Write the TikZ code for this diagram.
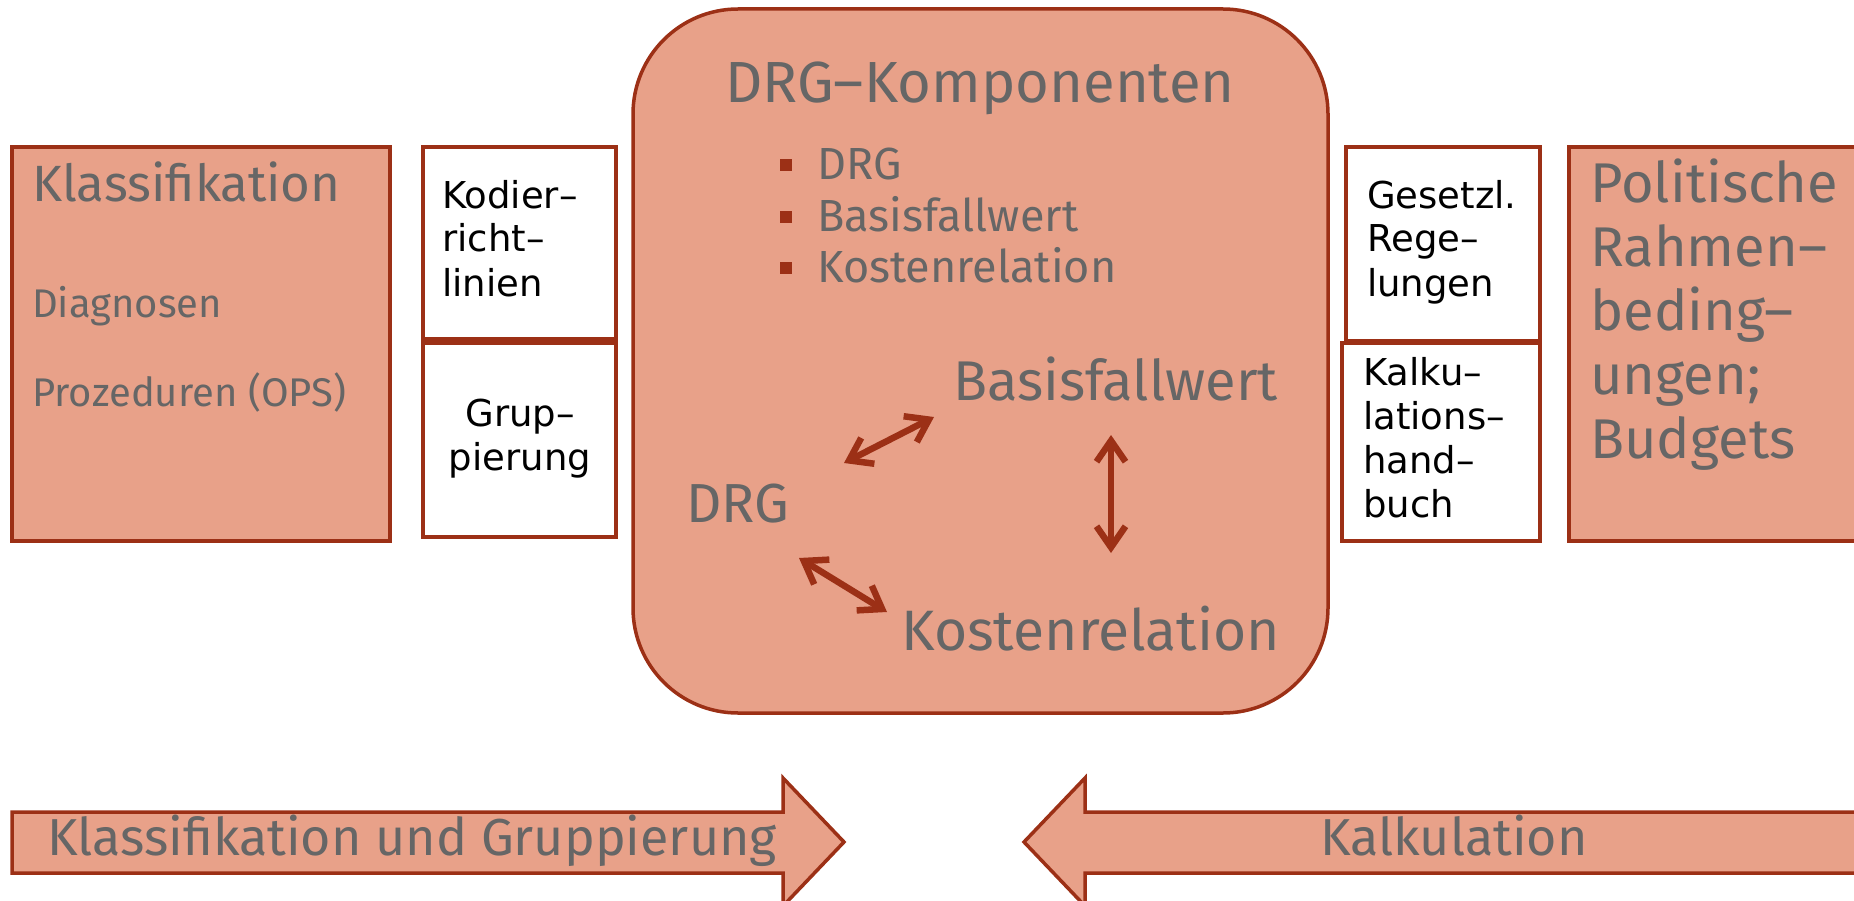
\documentclass[tikz,border=0pt]{standalone}
\usepackage{fontspec}
\setmainfont{Fira Sans}
\newfontfamily\boxfont{DejaVu Sans}
\usetikzlibrary{arrows.meta,positioning,calc}
\definecolor{Salmon}{HTML}{E8A189}
\definecolor{Rust}{HTML}{9C3016}
\definecolor{Slate}{HTML}{666666}

\begin{document}
\begin{tikzpicture}[x=1pt,y=-1pt,
  panel/.style={draw=Rust,line width=3.5pt,fill=Salmon,outer sep=0pt,anchor=north west},
  notebox/.style={draw=Rust,line width=3.5pt,fill=white,outer sep=0pt,anchor=north west},
  greytxt/.style={text=Slate,inner sep=0pt,anchor=base west},
  notetxt/.style={inner sep=0pt,align=left,anchor=base west,font=\boxfont\fontsize{37}{44}\selectfont},
  bullet/.style={fill=Rust,inner sep=0pt,minimum size=12pt},
  link/.style={draw=Rust,line width=6.5pt,{Straight Barb[length=21pt,width=29pt]}-{Straight Barb[length=21pt,width=29pt]}}]
  \clip (0,0) rectangle (1854,901);

  % left side
  \node[panel,minimum width=378pt,minimum height=394pt] (klass) at (12,147) {};
  \node[greytxt,font=\fontsize{51}{60}\selectfont] (klasshead) at (32,202) {Klassifikation};
  \node[greytxt,font=\fontsize{40}{48}\selectfont] (diag) at (32,317) {Diagnosen};
  \node[greytxt,font=\fontsize{40}{48}\selectfont] (proz) at (32,406) {Prozeduren (OPS)};
  \node[notebox,minimum width=193pt,minimum height=192pt] (kodier) at (423,147) {};
  \node[notebox,minimum width=193pt,minimum height=194pt] (grup) at (423,343) {};
  % base = last line
  \node[notetxt] (kodiertxt) at (442,296) {Kodier–\\richt–\\linien};
  \node[notetxt,align=center,anchor=base] (gruptxt) at (520,470) {Grup–\\pierung};

  % DRG components
  \node[panel,minimum width=695pt,minimum height=704pt,rounded corners=105pt] (drgbox) at (633,9) {};
  \node[text=Slate,inner sep=0pt,anchor=base,font=\fontsize{58}{66}\selectfont] (title) at (980,103) {DRG–Komponenten};
  \foreach \txt/\yy [count=\i] in {DRG/180,Basisfallwert/232,Kostenrelation/283}{
    \node[greytxt,font=\fontsize{45}{52}\selectfont] (item\i) at (817,\yy) {\txt};
    \node[bullet] (dot\i) at (786,\yy-15) {};
  }
  \node[greytxt,font=\fontsize{55}{64}\selectfont] (drg) at (686,522) {DRG};
  \node[greytxt,font=\fontsize{56}{64}\selectfont] (bfw) at (953,400) {Basisfallwert};
  \node[greytxt,font=\fontsize{57}{64}\selectfont] (krel) at (901,650) {Kostenrelation};
  \draw[link] ([shift={(158,-59)}]drg.base west) -- ([shift={(-19,17)}]bfw.base west);
  \draw[link] ([shift={(158,35)}]bfw.base west) -- ([shift={(210,-97)}]krel.base west);
  \draw[link] ([shift={(113,36)}]drg.base west) -- ([shift={(-14,-38)}]krel.base west);

  % right side
  \node[notebox,minimum width=194pt,minimum height=194pt] (gesetz) at (1346,147) {};
  \node[notebox,minimum width=198pt,minimum height=198pt] (kalkbuch) at (1342,343) {};
  \node[notetxt] (gesetztxt) at (1367,296) {Gesetzl.\\Rege–\\lungen};
  \node[notetxt] (kalkbuchtxt) at (1363,517) {Kalku–\\lations–\\hand–\\buch};
  \node[panel,minimum width=320pt,minimum height=394pt] (polit) at (1569,147) {};
  \node[greytxt,align=left,font=\fontsize{56}{64}\selectfont] (polittxt) at (1590,458) {Politische\\Rahmen–\\beding–\\ungen;\\Budgets};

  % process arrows
  \draw[draw=Rust,line width=3.5pt,fill=Salmon] (12,812) -- (783,812) -- (783,778) -- (844,842) -- (783,906) -- (783,873) -- (12,873) -- cycle;
  \node[text=Slate,inner sep=0pt,anchor=base,font=\fontsize{52}{60}\selectfont] (kgtxt) at (412,855) {Klassifikation und Gruppierung};
  \draw[draw=Rust,line width=3.5pt,fill=Salmon] (1870,812) -- (1085,812) -- (1085,778) -- (1024,842) -- (1085,906) -- (1085,873) -- (1870,873) -- cycle;
  \node[text=Slate,inner sep=0pt,anchor=base,font=\fontsize{52}{60}\selectfont] (kalktxt) at (1454,855) {Kalkulation};
\end{tikzpicture}
\end{document}
